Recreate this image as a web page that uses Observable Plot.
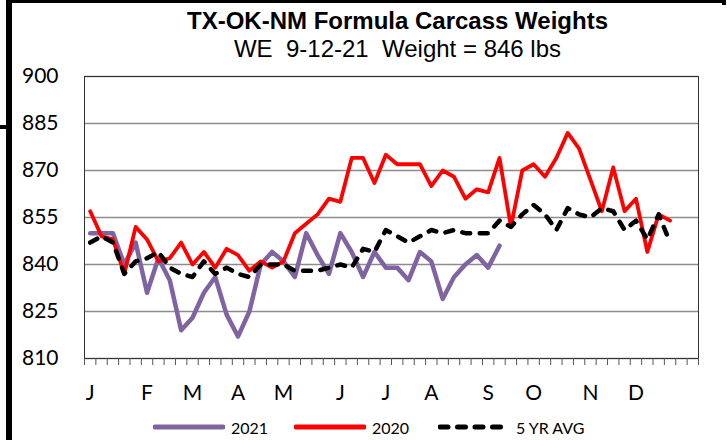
<!DOCTYPE html>
<html>
<head>
<meta charset="utf-8">
<script src="https://cdn.jsdelivr.net/npm/d3@7"></script>
<script src="https://cdn.jsdelivr.net/npm/@observablehq/plot@0.6"></script>
<style>
  body { margin: 0; background: #fff; }
  #wrap { position: relative; width: 727px; height: 440px; overflow: hidden; background: #fff; }
  .ttl { position: absolute; left: 34px; width: 727px; text-align: center; font-family: "Liberation Sans", Arial, sans-serif; font-size: 24px; line-height: 24px; height: 24px; white-space: pre; color: #000; }
  #chart { position: absolute; left: 0; top: 60px; }
  .leg { position: absolute; top: 418px; height: 18px; display: flex; align-items: center; font-family: Lato, sans-serif; font-size: 16px; color: #000; white-space: pre; }
  .leg svg { margin-right: 6px; }
  .bar { position: absolute; background: #000; }
</style>
</head>
<body>
<div id="wrap">
  <div class="bar" style="left:6px;top:0;width:6px;height:440px"></div>
  <div class="bar" style="left:6px;top:0;width:716px;height:3px"></div>
  <div class="bar" style="left:722px;top:0;width:4px;height:5px"></div>
  <div class="bar" style="left:0;top:125px;width:8px;height:4px"></div>
  <div class="ttl" style="top:9px;font-weight:bold">TX-OK-NM Formula Carcass Weights</div>
  <div class="ttl" style="top:37px">WE  9-12-21  Weight = 846 lbs</div>
  <div id="chart"></div>
  <div id="legend"></div>
</div>
<script>
// Category (week) axis: 54 week slots, month labels at their first week
const monthLabels = ["J","F","M","A","M","J","J","A","S","O","N","D"];
const monthWeek = [0,5,9,13,17,22,26,30,35,39,44,48];
const yTicks = [810,825,840,855,870,885,900];

const series2021 = [850,850,850,840,847,831,842,835,819,823,831,836,824,817,825,840,844,841,836,850,
                    843,837,850,844,836,844,839,839,835,844,841,829,836,840,843,839,846];
const series2020 = [857,849,848,837,852,848,841,842,847,840,844,839,845,843,838,841,839,841,850,853,
                    856,861,860,874,874,866,875,872,872,872,865,870,868,861,864,863,874,852,870,872,
                    868,874,882,877,867,857,871,857,861,844,856,854];
const series5yr  = [847,849,847,837,841,842,844,839,837,836,841,837,839,837,836,840,840,840,838,838,
                    838,839,840,839,845,844,851,849,847,849,851,850,851,850,850,850,854,852,856,859,
                    856,851,858,856,855,858,857,851,854,848,856,847];

const legendNames = ["2021","2020","5 YR AVG"];
const colors = ["#8064A2","#FF0000","#000000"];

const nSlots = 54;
const boundaries = d3.range(nSlots + 1).map(i => i - 0.5);

const chart = Plot.plot({
  width: 727,
  height: 350,
  marginLeft: 84,
  marginRight: 29,
  marginTop: 16,
  marginBottom: 52,
  style: { fontFamily: "Lato, sans-serif", background: "transparent", overflow: "visible" },
  x: { type: "linear", domain: [-0.5, nSlots - 0.5] },
  y: { domain: [810, 900] },
  marks: [
    Plot.ruleY(yTicks, { stroke: "#8c8c8c", strokeWidth: 1.5 }),
    Plot.frame({ stroke: "#333" }),
    Plot.axisX({ ticks: boundaries, tickSize: 7, tickFormat: () => "", label: null, stroke: "#555" }),
    Plot.axisX({ ticks: monthWeek, tickSize: 0, tickPadding: 27, fontSize: 21, label: null,
                 tickFormat: w => monthLabels[monthWeek.indexOf(w)] }),
    Plot.axisY({ ticks: yTicks, tickSize: 0, tickPadding: 26, fontSize: 21, label: null }),
    Plot.line(series2021, { x: (d, i) => i, y: d => d, stroke: colors[0], strokeWidth: 4.5 }),
    Plot.line(series2020, { x: (d, i) => i, y: d => d, stroke: colors[1], strokeWidth: 3.8 }),
    Plot.line(series5yr,  { x: (d, i) => i, y: d => d, stroke: colors[2], strokeWidth: 4.5,
                            strokeDasharray: "8,9.5", strokeLinecap: "round" })
  ]
});
document.getElementById("chart").appendChild(chart);

// Legend below the chart
const legendLeft = [153, 294, 438];
const legend = document.getElementById("legend");
legendNames.forEach((name, k) => {
  const item = document.createElement("div");
  item.className = "leg";
  item.style.left = legendLeft[k] + "px";
  const dash = k === 2 ? ' stroke-dasharray="8,9.5"' : "";
  item.innerHTML = `<svg width="72" height="10"><line x1="2" x2="70" y1="5" y2="5" stroke="${colors[k]}" stroke-width="5" stroke-linecap="round"${dash}/></svg>${name}`;
  legend.appendChild(item);
});
</script>
</body>
</html>
